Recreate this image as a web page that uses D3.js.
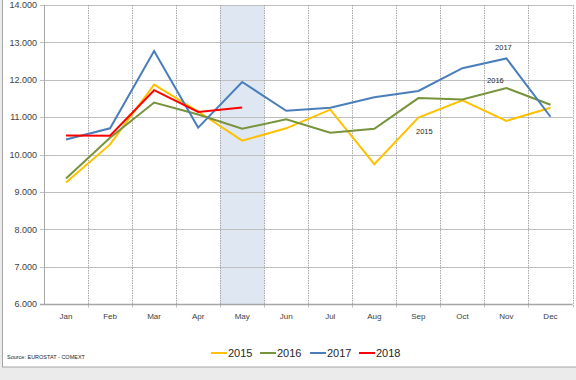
<!DOCTYPE html>
<html><head><meta charset="utf-8">
<script src="https://cdn.jsdelivr.net/npm/d3@7"></script>
<style>html,body{margin:0;padding:0;background:#ebebeb;}svg{display:block;}</style>
</head><body>
<svg id="c" width="576" height="380"></svg>
<script>
const months = ["Jan","Feb","Mar","Apr","May","Jun","Jul","Aug","Sep","Oct","Nov","Dec"];
const yTicks = [6000,7000,8000,9000,10000,11000,12000,13000,14000];
const s2015 = [9250,10270,11870,11150,10370,10700,11200,9740,10990,11450,10900,11250];
const s2016 = [9360,10450,11390,11070,10690,10940,10580,10690,11510,11470,11780,11330];
const s2017 = [10400,10700,12770,10720,11940,11170,11250,11530,11700,12310,12570,11010];
const s2018 = [10510,10500,11720,11140,11260];
const seriesNames = ["2015","2016","2017","2018"];
const seriesColors = ["#FFC000","#77933C","#4A7EBB","#FF0000"];
const highlightMonth = "May";
const endLabels = [{name:"2017", month:"Nov", dx:-3, dy:-8},{name:"2016", month:"Nov", dx:-11, dy:-5},{name:"2015", month:"Sep", dx:6, dy:17}];

const svg = d3.select("#c");
const tickFmt = v => (v/1000).toFixed(3);
const FONT = "Liberation Sans, Arial, sans-serif";

// chart area
svg.append("rect").attr("x",2.5).attr("y",-1).attr("width",580).attr("height",368)
  .attr("fill","#fff").attr("stroke","#a6a6a6").attr("stroke-width",1);

const L=44, R=572.5, T=5, B=304;
const x = d3.scaleBand().domain(months).range([L,R]).padding(0);
const y = d3.scaleLinear().domain([6000,14000]).range([B,T]);

// highlight band
svg.append("rect").attr("x",x(highlightMonth)).attr("y",T).attr("width",x.bandwidth()).attr("height",B-T)
  .attr("fill","#dfe7f2");

// horizontal grid
svg.append("g").selectAll("line").data(yTicks).join("line")
  .attr("x1",L-4).attr("x2",R).attr("y1",d=>Math.round(y(d))+0.5).attr("y2",d=>Math.round(y(d))+0.5)
  .attr("stroke","#bfbfbf").attr("stroke-width",1.2);

// vertical dotted grid
svg.append("g").selectAll("line").data(months).join("line")
  .attr("x1",(d,i)=>Math.round(L+(i+1)*x.bandwidth())+0.5).attr("x2",(d,i)=>Math.round(L+(i+1)*x.bandwidth())+0.5)
  .attr("y1",T).attr("y2",B+4)
  .attr("stroke","#a6a6a6").attr("stroke-width",1).attr("stroke-dasharray","1.5,1");

// left axis
svg.append("line").attr("x1",L+0.5).attr("x2",L+0.5).attr("y1",T).attr("y2",B)
  .attr("stroke","#a6a6a6").attr("stroke-width",1);
// bottom axis
svg.append("line").attr("x1",L-4).attr("x2",R).attr("y1",B+0.5).attr("y2",B+0.5)
  .attr("stroke","#a6a6a6").attr("stroke-width",1.5);

// y labels
svg.append("g").selectAll("text").data(yTicks).join("text")
  .attr("x",37).attr("y",d=>y(d)+3.3).attr("text-anchor","end")
  .attr("font-family",FONT).attr("font-size","9px").attr("fill","#404040")
  .text(tickFmt);

// x labels
svg.append("g").selectAll("text").data(months).join("text")
  .attr("x",d=>x(d)+x.bandwidth()/2).attr("y",319).attr("text-anchor","middle")
  .attr("font-family",FONT).attr("font-size","8px").attr("fill","#404040")
  .text(d=>d);

// lines
const allSeries = [s2015,s2016,s2017,s2018];
const line = d3.line().x((d,i)=>x(months[i])+x.bandwidth()/2).y(d=>y(d));
allSeries.forEach((s,k)=>{
  svg.append("path").datum(s).attr("d",line).attr("fill","none")
    .attr("stroke",seriesColors[k]).attr("stroke-width",2).attr("stroke-linejoin","miter");
});

// data labels
const dataByName = {"2015":s2015,"2016":s2016,"2017":s2017,"2018":s2018};
endLabels.forEach(l=>{
  const i = months.indexOf(l.month);
  svg.append("text").attr("x",x(l.month)+x.bandwidth()/2+l.dx).attr("y",y(dataByName[l.name][i])+l.dy)
    .attr("text-anchor","middle").attr("font-family",FONT)
    .attr("font-size","7.5px").attr("fill","#262626").text(l.name);
});

// legend
const legX = [211,260,310,359];
seriesNames.forEach((n,k)=>{
  const g = svg.append("g");
  g.append("line").attr("x1",legX[k]).attr("x2",legX[k]+16).attr("y1",353).attr("y2",353)
    .attr("stroke",seriesColors[k]).attr("stroke-width",2);
  g.append("text").attr("x",legX[k]+17).attr("y",357).attr("font-family",FONT)
    .attr("font-size","11px").attr("fill","#262626").text(n);
});

// source
svg.append("text").attr("x",7).attr("y",359).attr("font-family",FONT)
  .attr("font-size","5.5px").attr("fill","#262626").text("Source: EUROSTAT - COMEXT");
</script>
</body></html>
